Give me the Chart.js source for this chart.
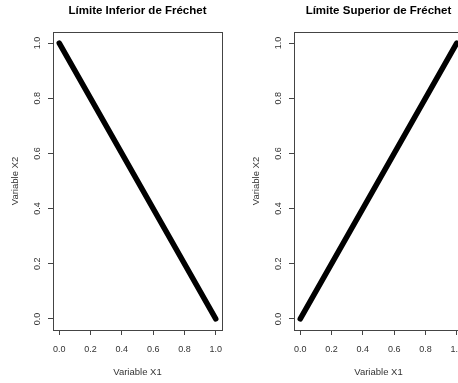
<!DOCTYPE html>
<html>
<head>
<meta charset="utf-8">
<script src="https://cdn.jsdelivr.net/npm/chart.js@4"></script>
<style>
  html, body { margin: 0; padding: 0; background: #fff; overflow: hidden; width: 458px; height: 383px; }
  .panel { position: absolute; top: 0; width: 241px; height: 383px; }
  #left { left: 0; }
  #right { left: 241px; }
</style>
</head>
<body>
<div class="panel" id="left"><canvas id="lower" width="241" height="383"></canvas></div>
<div class="panel" id="right"><canvas id="upper" width="241" height="383"></canvas></div>
<script>
// DATA
const x1Values = [0, 1];
const lowerX2 = [1, 0];
const upperX2 = [0, 1];
const xTicks = [0, 0.2, 0.4, 0.6, 0.8, 1.0];
const yTicks = [0, 0.2, 0.4, 0.6, 0.8, 1.0];
const titles = ['Límite Inferior de Fréchet', 'Límite Superior de Fréchet'];
const xLabel = 'Variable X1';
const yLabel = 'Variable X2';

const FONT = '"Liberation Sans", Arial, Helvetica, sans-serif';
const AXIS = '#444';

// plot frame like R's box()
const frame = {
  id: 'frame',
  afterDraw(chart) {
    const a = chart.chartArea;
    const ctx = chart.ctx;
    ctx.save();
    ctx.strokeStyle = AXIS;
    ctx.lineWidth = 1;
    ctx.strokeRect(Math.round(a.left) + 0.5, Math.round(a.top) + 0.5,
      Math.round(a.right - a.left), Math.round(a.bottom - a.top));
    ctx.restore();
  }
};

function makeChart(id, title, yValues) {
  const points = x1Values.map((x, i) => ({ x: x, y: yValues[i] }));
  return new Chart(document.getElementById(id), {
    type: 'scatter',
    data: {
      datasets: [{
        data: points,
        showLine: true,
        borderColor: '#000',
        borderWidth: 5.5,
        borderCapStyle: 'round',
        pointRadius: 0,
        pointHoverRadius: 0
      }]
    },
    options: {
      responsive: false,
      animation: false,
      events: [],
      layout: { padding: { top: 0, right: 19, bottom: 0, left: 0 } },
      plugins: {
        legend: { display: false },
        tooltip: { enabled: false },
        title: { display: false }
      },
      scales: {
        // empty top axis, used only to centre the main title over the plot region
        top: {
          type: 'linear',
          position: 'top',
          min: -0.04,
          max: 1.04,
          afterFit: s => { s.height = 32; },
          grid: { display: false, drawTicks: false },
          border: { display: false },
          ticks: { display: false },
          title: {
            display: true,
            text: title,
            color: '#000',
            font: { family: FONT, size: 11.5, weight: 'bold' },
            padding: { top: 4, bottom: 0 }
          }
        },
        x: {
          type: 'linear',
          min: -0.04,
          max: 1.04,
          afterBuildTicks: s => { s.ticks = xTicks.map(v => ({ value: v })); },
          afterFit: s => { s.height = 53; },
          grid: { drawOnChartArea: false, drawTicks: true, tickLength: 5, color: AXIS },
          border: { display: true, color: AXIS },
          ticks: {
            color: '#333',
            font: { family: FONT, size: 9 },
            padding: 9,
            maxRotation: 0,
            autoSkip: false,
            callback: v => v.toFixed(1)
          },
          title: {
            display: true,
            text: xLabel,
            color: '#333',
            font: { family: FONT, size: 9.5 },
            padding: { top: 0, bottom: 5 }
          }
        },
        y: {
          type: 'linear',
          min: -0.04,
          max: 1.04,
          afterBuildTicks: s => { s.ticks = yTicks.map(v => ({ value: v })); },
          afterFit: s => { s.width = 53; },
          grid: { drawOnChartArea: false, drawTicks: true, tickLength: 5, color: AXIS },
          border: { display: true, color: AXIS },
          ticks: {
            color: '#333',
            font: { family: FONT, size: 9 },
            padding: 4,
            minRotation: 90,
            maxRotation: 90,
            crossAlign: 'center',
            autoSkip: false,
            callback: v => v.toFixed(1)
          },
          title: {
            display: true,
            text: yLabel,
            color: '#333',
            font: { family: FONT, size: 9.5 },
            padding: { top: 9.5, bottom: 0 }
          }
        }
      }
    },
    plugins: [frame]
  });
}

makeChart('lower', titles[0], lowerX2);
makeChart('upper', titles[1], upperX2);
</script>
</body>
</html>
